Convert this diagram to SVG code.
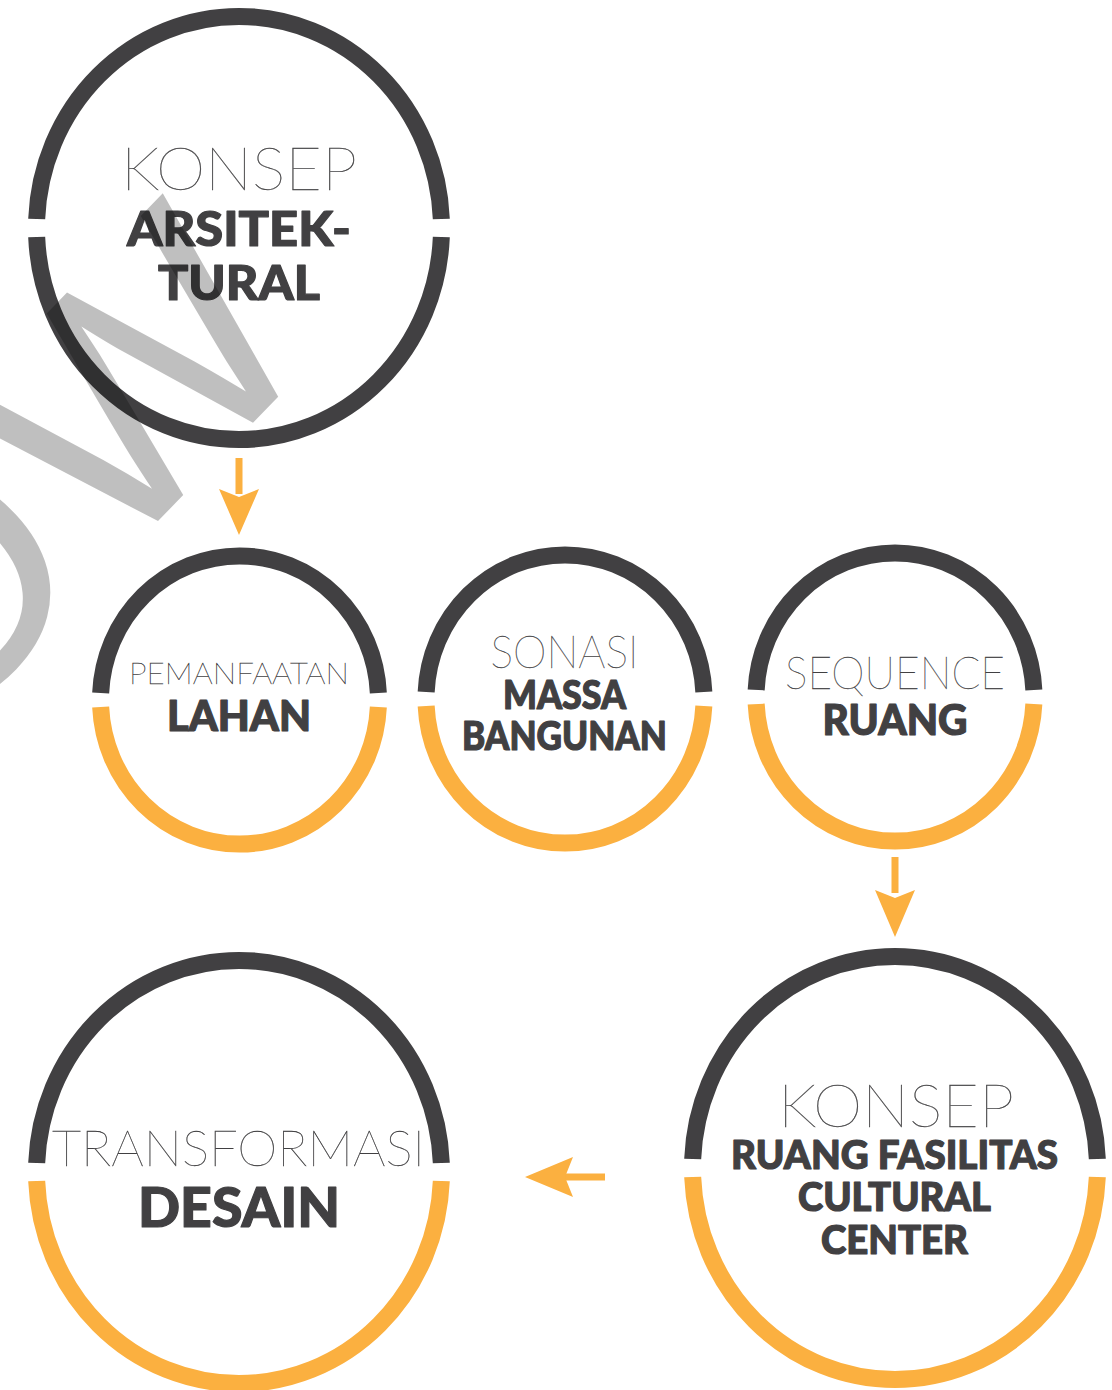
<svg xmlns="http://www.w3.org/2000/svg" width="1112" height="1390" viewBox="0 0 1112 1390">
  <style>
    .dark { fill: none; stroke: #414042; stroke-width: 17; }
    .warm { fill: none; stroke: #FBB040; stroke-width: 17; }
    .thin { font-family: Lato, "Open Sans", "DejaVu Sans", sans-serif; font-weight: 200; fill: #414042; stroke: #414042; stroke-width: 0.3; text-anchor: middle; opacity: 0.999; }
    .bold { font-family: Lato, "Open Sans", "DejaVu Sans", sans-serif; font-weight: 900; fill: #414042; stroke: #414042; stroke-width: 1.2; stroke-linejoin: round; text-anchor: middle; }
    .arrow { fill: #FBB040; }
    .mark { font-family: "Liberation Sans", Arial, sans-serif; font-weight: 400; fill: #000; fill-opacity: 0.25; text-anchor: middle; }
  </style>
  <rect width="1112" height="1390" fill="#ffffff"/>

  <!-- connectors -->
  <g id="connectors">
    <rect class="arrow" x="235.5" y="458" width="7" height="36"/>
    <polygon class="arrow" points="219,489 239,497 259,489 239,535"/>
    <rect class="arrow" x="891.5" y="857" width="7" height="36"/>
    <polygon class="arrow" points="875,890 895,898 915,890 895,937"/>
    <rect class="arrow" x="560" y="1173.5" width="45" height="7"/>
    <polygon class="arrow" points="573,1157 565,1177 573,1197 525,1177"/>
  </g>

  <!-- top: architectural concept -->
  <g id="konsep-arsitektural">
    <path class="dark" d="M36.68,219 A202.5 211.5 0 0 1 441.32,219"/>
    <path class="dark" d="M441.32,237 A202.5 211.5 0 0 1 36.68,237"/>
    <text class="thin" x="239" y="190" font-size="60" textLength="236" lengthAdjust="spacingAndGlyphs">KONSEP</text>
    <text class="bold" x="239" y="246" font-size="47" textLength="224" lengthAdjust="spacingAndGlyphs">ARSITEK-</text>
    <text class="bold" x="239" y="300" font-size="47" textLength="162" lengthAdjust="spacingAndGlyphs">TURAL</text>
  </g>

  <g id="pemanfaatan-lahan">
    <path class="dark" d="M100.66,693 A139 144 0 0 1 378.34,693"/>
    <path class="warm" d="M378.34,707 A139 144 0 0 1 100.66,707"/>
    <text class="thin" x="239" y="684" font-size="29" textLength="220" lengthAdjust="spacingAndGlyphs">PEMANFAATAN</text>
    <text class="bold" x="239" y="731" font-size="42" textLength="144" lengthAdjust="spacingAndGlyphs">LAHAN</text>
  </g>

  <g id="sonasi-massa-bangunan">
    <path class="dark" d="M426.16,692 A139 144 0 0 1 703.84,692"/>
    <path class="warm" d="M703.84,706 A139 144 0 0 1 426.16,706"/>
    <text class="thin" x="564.5" y="668" font-size="45" textLength="148" lengthAdjust="spacingAndGlyphs">SONASI</text>
    <text class="bold" x="564.5" y="709" font-size="39" textLength="123" lengthAdjust="spacingAndGlyphs">MASSA</text>
    <text class="bold" x="564.5" y="750" font-size="39" textLength="205" lengthAdjust="spacingAndGlyphs">BANGUNAN</text>
  </g>

  <g id="sequence-ruang">
    <path class="dark" d="M756.16,690 A139 144 0 0 1 1033.84,690"/>
    <path class="warm" d="M1033.84,704 A139 144 0 0 1 756.16,704"/>
    <text class="thin" x="895" y="689" font-size="46" textLength="220" lengthAdjust="spacingAndGlyphs">SEQUENCE</text>
    <text class="bold" x="895" y="735" font-size="42" textLength="145" lengthAdjust="spacingAndGlyphs">RUANG</text>
  </g>

  <g id="konsep-ruang-fasilitas">
    <path class="dark" d="M692.68,1159 A202.5 211.5 0 0 1 1097.32,1159"/>
    <path class="warm" d="M1097.32,1177 A202.5 211.5 0 0 1 692.68,1177"/>
    <text class="thin" x="896" y="1127" font-size="59" textLength="236" lengthAdjust="spacingAndGlyphs">KONSEP</text>
    <text class="bold" x="894.5" y="1169" font-size="39" textLength="327" lengthAdjust="spacingAndGlyphs">RUANG FASILITAS</text>
    <text class="bold" x="894.5" y="1211" font-size="39" textLength="193" lengthAdjust="spacingAndGlyphs">CULTURAL</text>
    <text class="bold" x="894.5" y="1254" font-size="39" textLength="147" lengthAdjust="spacingAndGlyphs">CENTER</text>
  </g>

  <g id="transformasi-desain">
    <path class="dark" d="M36.68,1163 A202.5 211.5 0 0 1 441.32,1163"/>
    <path class="warm" d="M441.32,1181 A202.5 211.5 0 0 1 36.68,1181"/>
    <text class="thin" x="238.5" y="1166" font-size="50" textLength="373" lengthAdjust="spacingAndGlyphs">TRANSFORMASI</text>
    <text class="bold" x="239" y="1227" font-size="56" textLength="202" lengthAdjust="spacingAndGlyphs">DESAIN</text>
  </g>

  <!-- translucent watermark lettering over the upper left -->
  <g id="watermark">
    <text class="mark" font-size="326" transform="translate(218,459) rotate(-46)">W</text>
    <text class="mark" font-size="326" transform="translate(14,667) rotate(-46)">O</text>
  </g>
</svg>
